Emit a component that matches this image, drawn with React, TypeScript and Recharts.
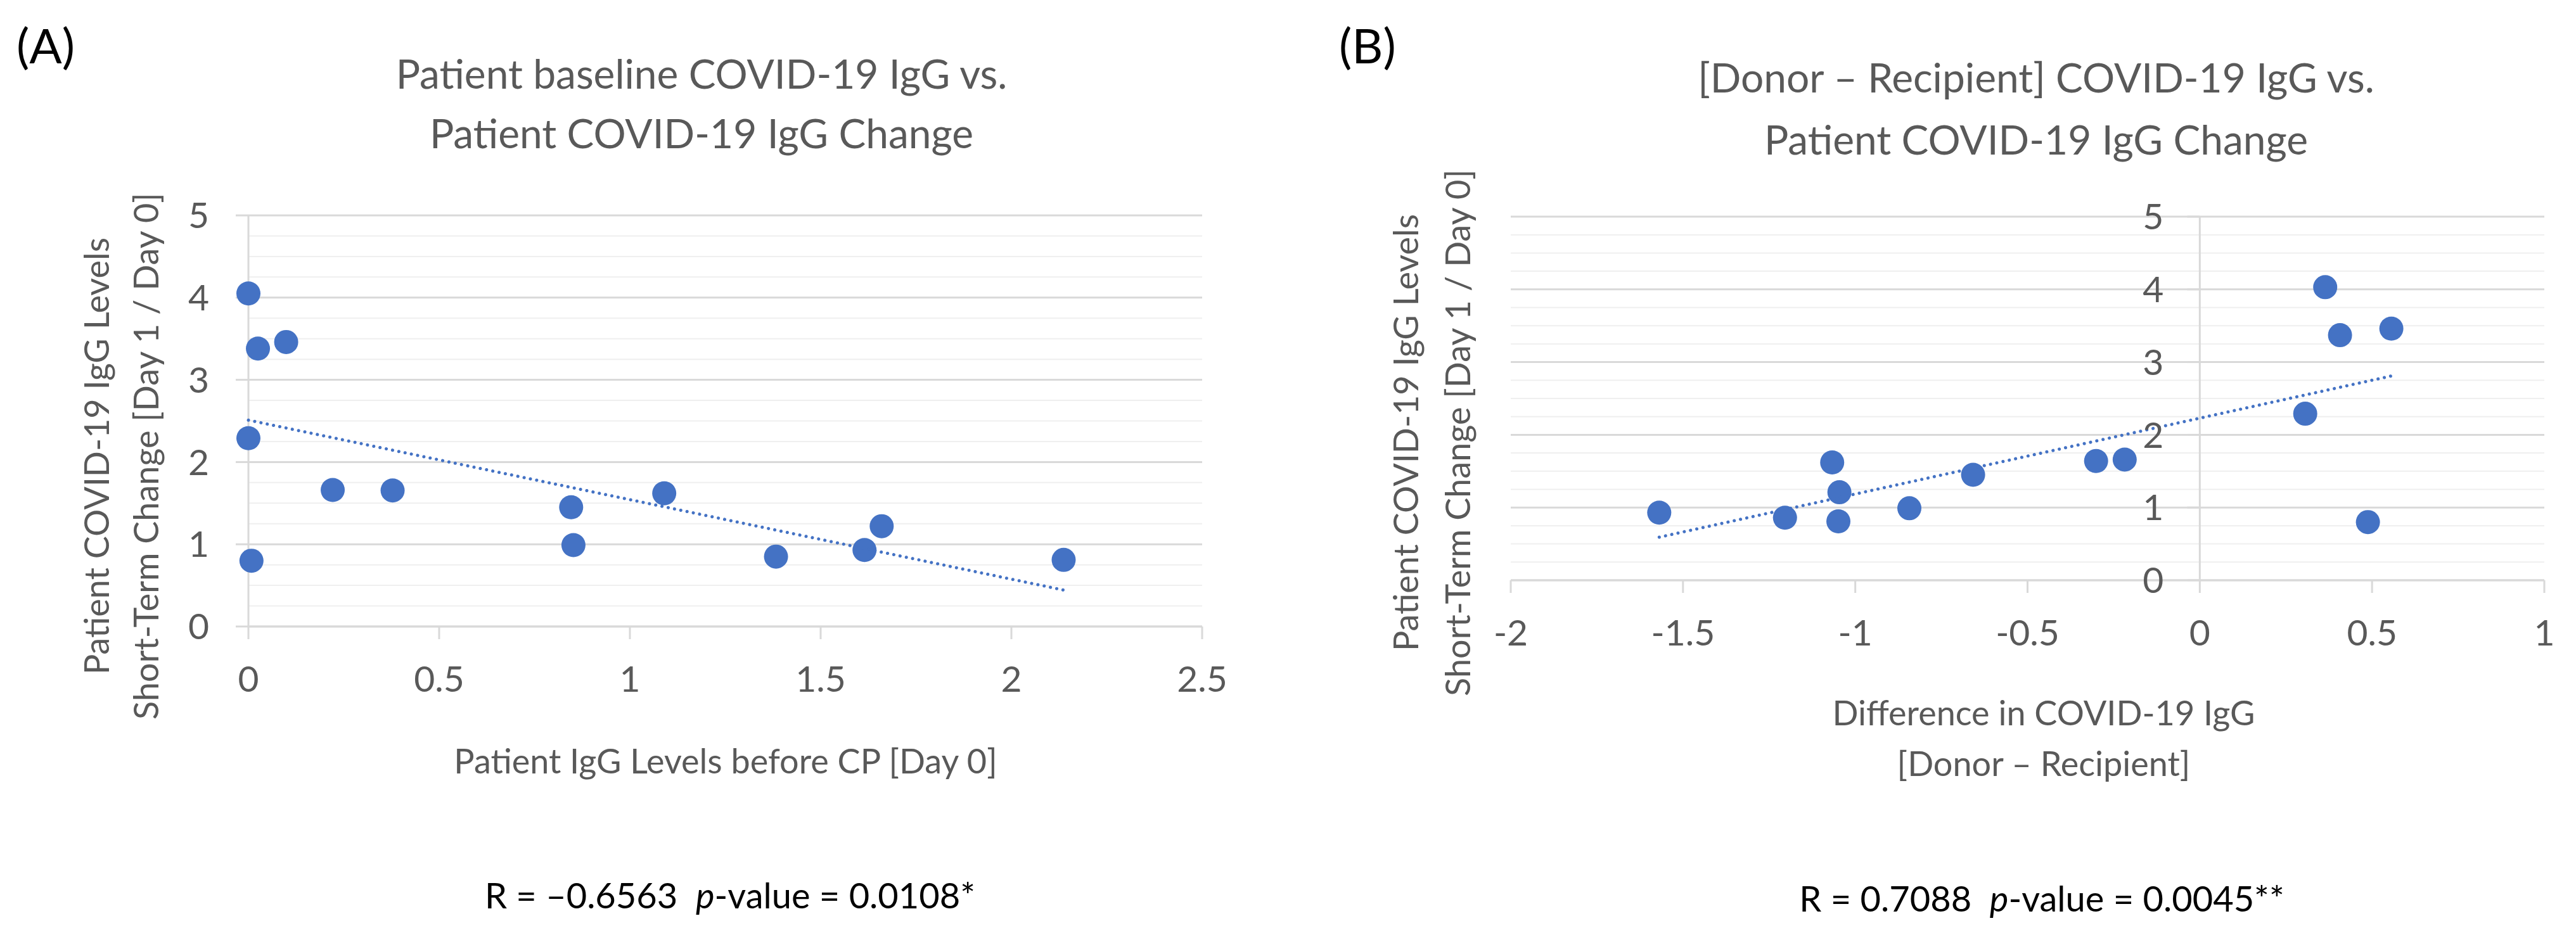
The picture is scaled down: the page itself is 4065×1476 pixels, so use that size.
import React from 'react'
import { ScatterChart, Scatter, XAxis, YAxis, CartesianGrid, ReferenceLine } from 'recharts'

// Panel A: baseline IgG (day 0) vs short-term change
const baselineA = [0, 0.025, 0.099, 0, 0.221, 0.378, 0.846, 0.852, 1.09, 1.383, 1.615, 1.66, 2.137, 0.008]
const changeA = [4.05, 3.38, 3.46, 2.29, 1.66, 1.655, 1.45, 0.99, 1.62, 0.85, 0.93, 1.22, 0.81, 0.8]
const xTicksA = [0, 0.5, 1, 1.5, 2, 2.5]

// Panel B: donor - recipient difference vs short-term change
const diffB = [-1.569, -1.204, -1.067, -1.046, -1.049, -0.843, -0.658, -0.301, -0.218, 0.306, 0.364, 0.407, 0.556, 0.488]
const changeB = [0.93, 0.86, 1.62, 1.21, 0.81, 0.99, 1.45, 1.64, 1.66, 2.29, 4.03, 3.37, 3.46, 0.8]
const xTicksB = [-2, -1.5, -1, -0.5, 0, 0.5, 1]

const yTicks = [0, 1, 2, 3, 4, 5]
const yMinor = [0.25, 0.5, 0.75, 1.25, 1.5, 1.75, 2.25, 2.5, 2.75, 3.25, 3.5, 3.75, 4.25, 4.5, 4.75]

const BLUE = '#4472C4'
const GRAY = '#595959'
const GRID = '#d9d9d9'
const MINOR = '#efefef'
const FONT = 'Lato, "Open Sans", sans-serif'

const toPoints = (xs: number[], ys: number[]) => xs.map((x, i) => ({ x, y: ys[i] }))

// least squares trendline across the data range (like Excel's linear trendline)
function trend(xs: number[], ys: number[]) {
  const n = xs.length
  const mx = xs.reduce((a, b) => a + b, 0) / n
  const my = ys.reduce((a, b) => a + b, 0) / n
  let sxy = 0
  let sxx = 0
  xs.forEach((x, i) => {
    sxy += (x - mx) * (ys[i] - my)
    sxx += (x - mx) * (x - mx)
  })
  const slope = sxy / sxx
  const icpt = my - slope * mx
  const lo = Math.min(...xs)
  const hi = Math.max(...xs)
  return [
    { x: lo, y: icpt + slope * lo },
    { x: hi, y: icpt + slope * hi },
  ]
}

const Marker = (p: any) => <circle cx={p.cx} cy={p.cy} r={19} fill={BLUE} />
const NoShape = () => <g />

const trendLine = { stroke: BLUE, strokeWidth: 5, strokeDasharray: '0.1 10', strokeLinecap: 'round' as const }
const tickStyle = { fill: GRAY, fontSize: 57, fontFamily: FONT }

// chart B geometry
const B_LEFT = 324
const B_YW = 10
const B_PLOT_W = 1631
const B_ZERO = (B_PLOT_W * (0 - xTicksB[0])) / (xTicksB[xTicksB.length - 1] - xTicksB[0])

const BYTick = (props: any) => {
  const { x, y, payload } = props
  const ax = x + B_ZERO
  return (
    <g>
      <line x1={ax - 20} x2={ax} y1={y} y2={y} stroke={GRID} strokeWidth={3} />
      <text x={ax - 57} y={y} dy="0.355em" textAnchor="end" fill={GRAY} fontSize={57} fontFamily={FONT}>
        {payload.value}
      </text>
    </g>
  )
}

const abs = (s: React.CSSProperties): React.CSSProperties => ({ position: 'absolute', whiteSpace: 'nowrap', ...s })

export default function App() {
  const ptsA = toPoints(baselineA, changeA)
  const ptsB = toPoints(diffB, changeB)
  const trA = trend(baselineA, changeA)
  const trB = trend(diffB, changeB)

  return (
    <div style={{ position: 'absolute', left: 0, top: 0, width: 4065, height: 1476, background: '#fff', fontFamily: FONT, overflow: 'hidden' }}>
      {/* Panel A */}
      <div style={{ position: 'absolute', left: 0, top: 0 }}>
        <ScatterChart width={2000} height={1200} margin={{ top: 340, right: 103, bottom: 111, left: 292 }}>
          <CartesianGrid vertical={false} stroke={GRID} strokeWidth={3} />
          {yMinor.map(v => (
            <ReferenceLine key={v} y={v} stroke={MINOR} strokeWidth={2} />
          ))}
          <XAxis
            type="number"
            dataKey="x"
            domain={[0, 2.5]}
            ticks={xTicksA}
            height={100}
            tickSize={20}
            tickMargin={43}
            axisLine={{ stroke: GRID, strokeWidth: 3 }}
            tickLine={{ stroke: GRID, strokeWidth: 3 }}
            tick={tickStyle}
          />
          <YAxis
            type="number"
            dataKey="y"
            domain={[0, 5]}
            ticks={yTicks}
            width={100}
            tickSize={20}
            tickMargin={42}
            axisLine={{ stroke: GRID, strokeWidth: 3 }}
            tickLine={{ stroke: GRID, strokeWidth: 3 }}
            tick={tickStyle}
          />
          <Scatter data={ptsA} shape={Marker} isAnimationActive={false} />
          <Scatter data={trA} shape={NoShape} line={trendLine} isAnimationActive={false} />
        </ScatterChart>
      </div>

      {/* Panel B */}
      <div style={{ position: 'absolute', left: 2050, top: 0 }}>
        <ScatterChart width={2015} height={1200} margin={{ top: 342, right: 50, bottom: 184, left: B_LEFT }}>
          <CartesianGrid vertical={false} stroke={GRID} strokeWidth={3} />
          {yMinor.map(v => (
            <ReferenceLine key={v} y={v} stroke={MINOR} strokeWidth={2} />
          ))}
          <ReferenceLine x={0} stroke={GRID} strokeWidth={3} />
          <XAxis
            type="number"
            dataKey="x"
            domain={[-2, 1]}
            ticks={xTicksB}
            height={100}
            tickSize={20}
            tickMargin={43}
            axisLine={{ stroke: GRID, strokeWidth: 3 }}
            tickLine={{ stroke: GRID, strokeWidth: 3 }}
            tick={tickStyle}
          />
          <YAxis
            type="number"
            dataKey="y"
            domain={[0, 5]}
            ticks={yTicks}
            width={B_YW}
            tickSize={0}
            tickMargin={0}
            axisLine={false}
            tickLine={false}
            tick={BYTick}
          />
          <Scatter data={ptsB} shape={Marker} isAnimationActive={false} />
          <Scatter data={trB} shape={NoShape} line={trendLine} isAnimationActive={false} />
        </ScatterChart>
      </div>

      {/* Texts A */}
      <div style={abs({ left: 26, top: 33, fontSize: 76, lineHeight: '76px', color: '#000' })}>(A)</div>
      <div style={abs({ left: 1107, top: 69, transform: 'translateX(-50%)', fontSize: 64, lineHeight: '94px', color: GRAY, textAlign: 'center' })}>
        Patient baseline COVID-19 IgG vs.
        <br />
        Patient COVID-19 IgG Change
      </div>
      <div style={abs({ left: 191, top: 720, transform: 'translate(-50%, -50%) rotate(-90deg)', fontSize: 54, lineHeight: '78px', color: GRAY, textAlign: 'center' })}>
        Patient COVID-19 IgG Levels
        <br />
        Short-Term Change [Day 1 / Day 0]
      </div>
      <div style={abs({ left: 1145, top: 1171, transform: 'translateX(-50%)', fontSize: 54, lineHeight: '60px', color: GRAY })}>
        Patient IgG Levels before CP [Day 0]
      </div>
      <div style={abs({ left: 1152, top: 1383, transform: 'translateX(-50%)', fontSize: 56, lineHeight: '60px', color: '#000' })}>
        R = –0.6563&nbsp;&nbsp;<i>p</i>-value = 0.0108*
      </div>

      {/* Texts B */}
      <div style={abs({ left: 2113, top: 33, fontSize: 76, lineHeight: '76px', color: '#000' })}>(B)</div>
      <div style={abs({ left: 3213, top: 73, transform: 'translateX(-50%)', fontSize: 64, lineHeight: '98px', color: GRAY, textAlign: 'center' })}>
        [Donor – Recipient] COVID-19 IgG vs.
        <br />
        Patient COVID-19 IgG Change
      </div>
      <div style={abs({ left: 2259, top: 683, transform: 'translate(-50%, -50%) rotate(-90deg)', fontSize: 54, lineHeight: '82px', color: GRAY, textAlign: 'center' })}>
        Patient COVID-19 IgG Levels
        <br />
        Short-Term Change [Day 1 / Day 0]
      </div>
      <div style={abs({ left: 3225, top: 1085, transform: 'translateX(-50%)', fontSize: 54, lineHeight: '80px', color: GRAY, textAlign: 'center' })}>
        Difference in COVID-19 IgG
        <br />
        [Donor – Recipient]
      </div>
      <div style={abs({ left: 3222, top: 1388, transform: 'translateX(-50%)', fontSize: 56, lineHeight: '60px', color: '#000' })}>
        R = 0.7088&nbsp;&nbsp;<i>p</i>-value = 0.0045**
      </div>
    </div>
  )
}
